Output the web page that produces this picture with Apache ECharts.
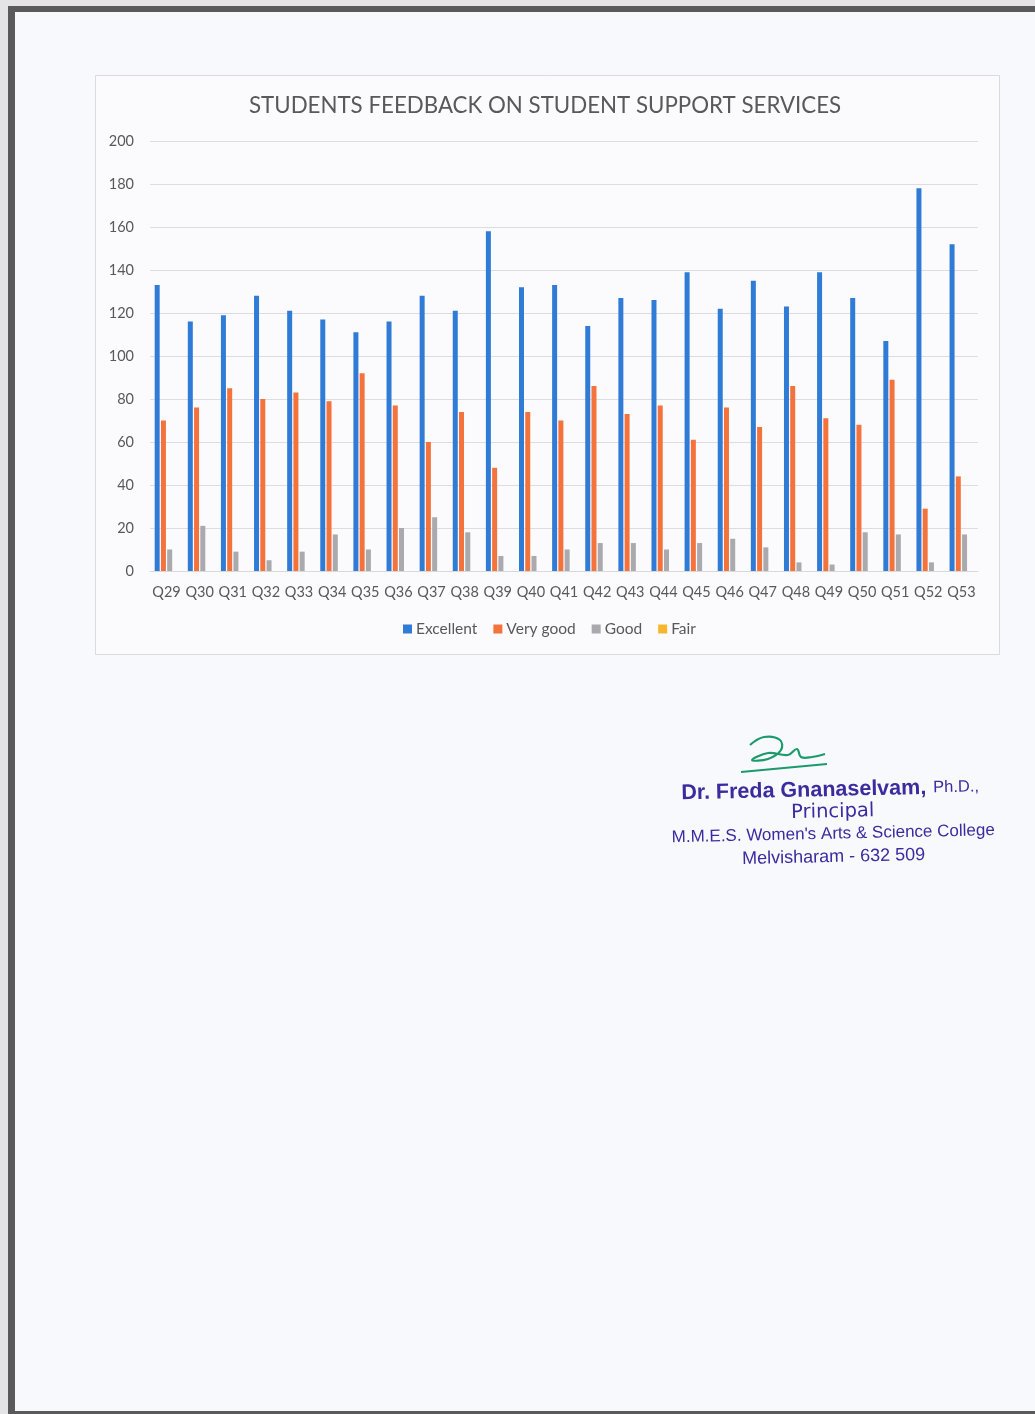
<!DOCTYPE html>
<html>
<head>
<meta charset="utf-8">
<style>
  html, body { margin: 0; padding: 0; background: #e4e4e6; }
  #chart { width: 1035px; height: 1414px; }
</style>
<script src="https://cdn.jsdelivr.net/npm/echarts@6/dist/echarts.min.js"></script>
</head>
<body>
<div id="chart"></div>
<script>
const categories = ['Q29','Q30','Q31','Q32','Q33','Q34','Q35','Q36','Q37','Q38','Q39','Q40','Q41','Q42','Q43','Q44','Q45','Q46','Q47','Q48','Q49','Q50','Q51','Q52','Q53'];
const excellent = [133,116,119,128,121,117,111,116,128,121,158,132,133,114,127,126,139,122,135,123,139,127,107,178,152];
const veryGood  = [70,76,85,80,83,79,92,77,60,74,48,74,70,86,73,77,61,76,67,86,71,68,89,29,44];
const good      = [10,21,9,5,9,17,10,20,25,18,7,7,10,13,13,10,13,15,11,4,3,18,17,4,17];
const fair      = [0,0,0,0,0,0,0,0,0,0,0,0,0,0,0,0,0,0,0,0,0,0,0,0,0];
const yTicks = [0,20,40,60,80,100,120,140,160,180,200];

const chart = echarts.init(document.getElementById('chart'), null, { renderer: 'canvas' });
const txt = '#595959';
const font = 'Lato, "Open Sans", sans-serif';
const stampColor = '#3b2b9e';
const stampFont = '"Liberation Sans", Arial, sans-serif';
const stampWide = '"DejaVu Sans", "Liberation Sans", sans-serif';

function bar(name, data, color) {
  return {
    name: name, type: 'bar', data: data, barWidth: 5, barGap: '25%',
    itemStyle: { color: color }, emphasis: { disabled: true }
  };
}

chart.setOption({
  backgroundColor: '#e4e4e6',
  animation: false,
  title: {
    text: 'STUDENTS FEEDBACK ON STUDENT SUPPORT SERVICES',
    left: 244, top: 90,
    textStyle: { color: txt, fontSize: 22.3, fontWeight: 'normal', fontFamily: font }
  },
  legend: {
    data: ['Excellent','Very good','Good','Fair'],
    left: 398, top: 616, icon: 'rect', itemWidth: 9, itemHeight: 9, itemGap: 16,
    textStyle: { color: txt, fontSize: 15.5, fontFamily: font, padding: [0, 0, 0, -1] }
  },
  grid: { left: 150, right: 57, top: 141, bottom: 843, containLabel: false },
  xAxis: {
    type: 'category', data: categories,
    axisLine: { lineStyle: { color: '#d9d9d9' } },
    axisTick: { show: false },
    axisLabel: { color: txt, fontSize: 14.5, fontFamily: font, margin: 14, interval: 0 }
  },
  yAxis: {
    type: 'value', min: 0, max: 200, interval: 20,
    axisLine: { show: false }, axisTick: { show: false },
    axisLabel: { color: txt, fontSize: 14.5, fontFamily: font, margin: 16,
      formatter: v => yTicks.includes(v) ? String(v) : '' },
    splitLine: { lineStyle: { color: '#dcdde3' } }
  },
  graphic: [
    { type: 'rect', z: -10, shape: { x: 8, y: 6, width: 1040, height: 1414 }, style: { fill: '#5a5a5c' } },
    { type: 'rect', z: -9, shape: { x: 15, y: 12, width: 1030, height: 1399 }, style: { fill: '#f8f9fc' } },
    { type: 'rect', z: -8, shape: { x: 95.5, y: 75.5, width: 904, height: 579 },
      style: { fill: '#fbfbfd', stroke: '#dadbe0', lineWidth: 1 } },
    { type: 'polyline', z: 10,
      shape: { points: [[750,745],[764,737],[780,740],[781,750],[768,759],[752,760],[768,753],[788,755],[797,749],[801,757],[812,757],[825,754]], smooth: 0.4 },
      style: { fill: null, stroke: '#1d9a6c', lineWidth: 2.2 } },
    { type: 'line', z: 10,
      shape: { x1: 741, y1: 772, x2: 827, y2: 764 },
      style: { stroke: '#1d9a6c', lineWidth: 2.2 } },
    { type: 'group', z: 10, x: 833, y: 823, rotation: 0.022,
      children: [
        { type: 'text', x: -151, y: -33, style: { text: 'Dr. Freda Gnanaselvam,', align: 'left', verticalAlign: 'middle',
            fontSize: 21.5, fontWeight: 'bold', fill: stampColor, fontFamily: stampFont } },
        { type: 'text', x: 101, y: -33, style: { text: 'Ph.D.,', align: 'left', verticalAlign: 'middle',
            fontSize: 16.5, fill: stampColor, fontFamily: stampFont } },
        { type: 'text', x: 0, y: -11, style: { text: 'Principal', align: 'center', verticalAlign: 'middle',
            fontSize: 19.5, fill: stampColor, fontFamily: stampWide } },
        { type: 'text', x: 0, y: 11, style: { text: "M.M.E.S. Women's Arts & Science College", align: 'center', verticalAlign: 'middle',
            fontSize: 17, fill: stampColor, fontFamily: stampFont } },
        { type: 'text', x: 0, y: 34, style: { text: 'Melvisharam - 632 509', align: 'center', verticalAlign: 'middle',
            fontSize: 18, fill: stampColor, fontFamily: stampFont } }
      ] }
  ],
  series: [
    bar('Excellent', excellent, '#2f7bd6'),
    bar('Very good', veryGood, '#f4733c'),
    bar('Good', good, '#a9a9ae'),
    bar('Fair', fair, '#f8b62d')
  ]
});
</script>
</body>
</html>
